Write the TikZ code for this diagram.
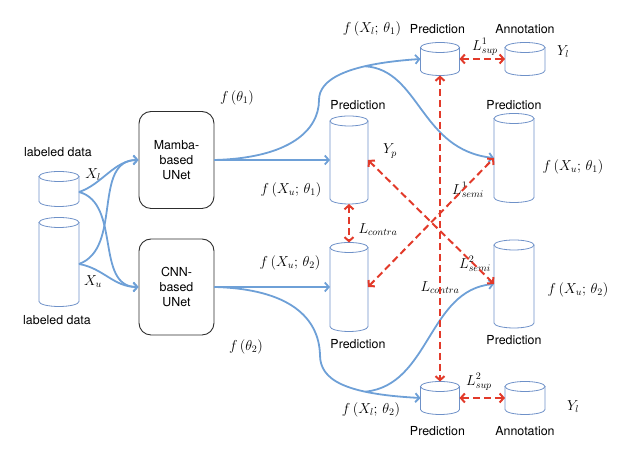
\documentclass[tikz,border=0pt]{standalone}
\usepackage{fontspec}
\setsansfont{TeX Gyre Heros}
\usetikzlibrary{arrows.meta}
\definecolor{flowblue}{RGB}{110,160,215}
\definecolor{cylblue}{RGB}{110,145,200}
\definecolor{lossred}{RGB}{226,58,42}
\definecolor{boxgray}{RGB}{45,45,45}
\newcommand{\mkcyl}[5]{%
  \node[cylbox, minimum width=#4, minimum height=#5] (#1) at (#2,#3) {};
  \draw[cylline] ([yshift=-5pt]#1.north west) -- ([yshift=5pt]#1.south west)
     arc[start angle=180, end angle=360, x radius=#4/2, y radius=5pt]
     -- ([yshift=-5pt]#1.north east);
  \draw[cylline] ([yshift=-5pt]#1.north) ellipse[x radius=#4/2, y radius=5pt];
}
\begin{document}
\begin{tikzpicture}[x=1pt,y=1pt,
  txt/.style={font=\sffamily\fontsize{12.4}{15}\selectfont, inner sep=0},
  mlab/.style={font=\fontsize{14}{16}\selectfont, inner sep=0},
  netbox/.style={draw=boxgray, line width=0.9pt, rounded corners=12pt,
     minimum width=75pt, minimum height=97pt, align=center, inner sep=0,
     font=\sffamily\fontsize{12.4}{15}\selectfont},
  cylbox/.style={inner sep=0, outer sep=0, draw=none},
  cylline/.style={draw=cylblue, line width=0.8pt},
  flow/.style={draw=flowblue, line width=1.8pt, -{Straight Barb[length=4pt,width=9pt]}},
  loss/.style={draw=lossred, line width=2pt, dash pattern=on 7pt off 4pt,
     {Straight Barb[length=4pt,width=9pt]}-{Straight Barb[length=4pt,width=9pt]}},
]
\useasboundingbox (0,0) rectangle (625,454);

% data cylinders
\mkcyl{dl}{59}{265}{40pt}{35pt}
\mkcyl{du}{59}{192}{40pt}{89pt}
\node[txt] (tdl) at (58,302) {labeled data};
\node[txt] (tdu) at (57,134) {labeled data};
\node[mlab] (xl) at (93,279) {$X_l$};
\node[mlab] (xu) at (93,172) {$X_u$};

% networks
\node[netbox] (mamba) at (176.5,294) {Mamba-\\based\\UNet};
\node[netbox, minimum height=96pt] (cnn) at (176.5,167) {CNN-\\based\\UNet};

% prediction cylinders
\mkcyl{pm1}{349}{294}{38pt}{88pt}
\mkcyl{pm2}{349}{167}{38pt}{89pt}
\mkcyl{ps1}{440}{395}{39pt}{33pt}
\mkcyl{a1}{525}{395}{40pt}{33pt}
\mkcyl{pr1}{514}{296}{40pt}{89pt}
\mkcyl{ps2}{440}{56}{39pt}{33pt}
\mkcyl{a2}{525}{56}{40pt}{33pt}
\mkcyl{pr2}{514}{170}{40pt}{88pt}

% texts
\node[txt] (tpm1) at (358,349) {Prediction};
\node[txt] (tpm2) at (358,110) {Prediction};
\node[txt] (tps1) at (437.5,425) {Prediction};
\node[txt] (ta1) at (525,425) {Annotation};
\node[txt] (tpr1) at (514,349) {Prediction};
\node[txt] (tps2) at (437.5,23) {Prediction};
\node[txt] (ta2) at (525,23) {Annotation};
\node[txt] (tpr2) at (514,114) {Prediction};

\node[mlab] (ft1) at (237,356) {$f\,(\theta_1)$};
\node[mlab] (ft2) at (246,107) {$f\,(\theta_2)$};
\node[mlab] (fxl1) at (372,425) {$f\,(X_l;\,\theta_1)$};
\node[mlab] (fxl2) at (371,44) {$f\,(X_l;\,\theta_2)$};
\node[mlab] (fxu1a) at (291,264) {$f\,(X_u;\,\theta_1)$};
\node[mlab] (fxu2a) at (290,191) {$f\,(X_u;\,\theta_2)$};
\node[mlab] (fxu1b) at (573,287) {$f\,(X_u;\,\theta_1)$};
\node[mlab] (fxu2b) at (578,164) {$f\,(X_u;\,\theta_2)$};
\node[mlab] (yp) at (390,303) {$Y_p$};
\node[mlab] (yl1) at (563,402) {$Y_l$};
\node[mlab] (yl2) at (573,47) {$Y_l$};
\node[mlab] (ls1) at (485,407) {$L^1_{sup}$};
\node[mlab] (ls2) at (479,72) {$L^2_{sup}$};
\node[mlab] (lsm1) at (468,264) {$L^1_{semi}$};
\node[mlab] (lsm2) at (475,190) {$L^2_{semi}$};
\node[mlab] (lc1) at (378,224) {$L_{contra}$};
\node[mlab] (lc2) at (440,166) {$L_{contra}$};

% input flows
\draw[flow] ([yshift=-3pt]dl.east) to[out=18,in=180,looseness=0.9] (mamba.west);
\draw[flow] ([yshift=-3pt]dl.east) to[out=-15,in=180] (cnn.west);
\draw[flow] ([yshift=-2pt]du.east) to[out=20,in=180] (mamba.west);
\draw[flow] ([yshift=-2pt]du.east) to[out=-10,in=180] (cnn.west);

% output flows
\draw[flow] (mamba.east) -- (pm1.west);
\draw[flow] (cnn.east) -- (pm2.west);
\draw[flow] (mamba.east) .. controls (290,296) and (319,324) .. (319,354)
   .. controls (319,374) and (345,390) .. (ps1.west) coordinate[pos=0.7] (b1);
\draw[flow] (b1) .. controls (420,384) and (420,304) .. (pr1.west);
\draw[flow] (cnn.east) .. controls (290,165) and (319,136) .. (320,99)
   .. controls (320,74) and (345,60) .. (ps2.west) coordinate[pos=0.7] (b2);
\draw[flow] (b2) .. controls (430,69) and (428,164) .. (pr2.west);

% losses
\draw[loss] (ps1.east) -- (a1.west);
\draw[loss] (ps2.east) -- (a2.west);
\draw[loss] (ps1.south) -- (ps2.north);
\draw[loss] (pm1.south) -- (pm2.north);
\draw[loss] (pm1.east) -- (pr2.west);
\draw[loss] (pm2.east) -- (pr1.west);
\end{tikzpicture}
\end{document}
